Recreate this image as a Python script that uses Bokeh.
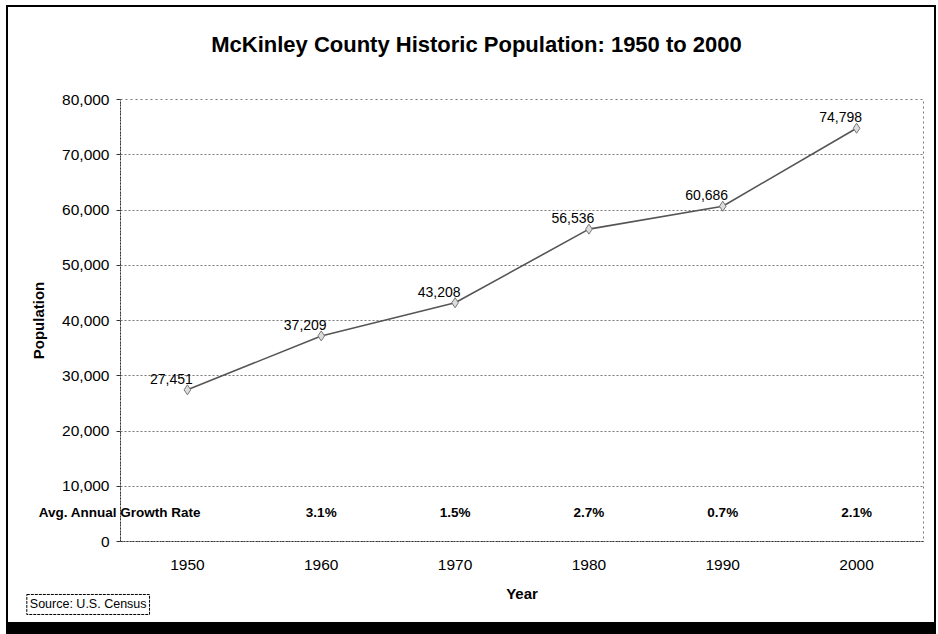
from bokeh.plotting import figure
from bokeh.models import ColumnDataSource, Label, LabelSet, FixedTicker, NumeralTickFormatter, Range1d
from bokeh.embed import file_html
from bokeh.resources import INLINE
from bokeh.core.properties import value

# ---- data ----
years = [1950, 1960, 1970, 1980, 1990, 2000]
population = [27451, 37209, 43208, 56536, 60686, 74798]
pop_labels = ["27,451", "37,209", "43,208", "56,536", "60,686", "74,798"]
rate_years = [1960, 1970, 1980, 1990, 2000]
growth_rates = ["3.1%", "1.5%", "2.7%", "0.7%", "2.1%"]
y_ticks = [0, 10000, 20000, 30000, 40000, 50000, 60000, 70000, 80000]

title_text = "McKinley County Historic Population: 1950 to 2000"
rate_row_label = "Avg. Annual Growth Rate"
source_text = "Source: U.S. Census"
FONT = "Liberation Sans"

p = figure(width=930, height=629, output_backend="svg", toolbar_location=None,
           x_range=Range1d(1945, 2005), y_range=Range1d(0, 80000),
           min_border_left=112, min_border_right=15, min_border_top=92, min_border_bottom=95)
p.styles = {"margin-left": "6px", "margin-top": "5px",
            "border-left": "2px solid black", "border-top": "2px solid black",
            "border-right": "2px solid black", "border-bottom": "12px solid black"}
p.background_fill_color = "white"
p.border_fill_color = "white"
p.outline_line_color = "#777777"
p.outline_line_dash = "2 3"
p.outline_line_width = 1

# axes
p.xaxis.ticker = FixedTicker(ticks=years)
p.yaxis.ticker = FixedTicker(ticks=y_ticks)
p.yaxis.formatter = NumeralTickFormatter(format="0,0")
for ax in (p.xaxis[0], p.yaxis[0]):
    ax.major_label_text_font = FONT
    ax.major_label_text_font_size = "15.5px"
    ax.major_label_text_color = "black"
    ax.axis_label_text_font = FONT
    ax.axis_label_text_font_style = "bold"
    ax.axis_label_text_font_size = "15px"
    ax.axis_label_text_color = "black"
    ax.minor_tick_line_color = None
    ax.axis_line_color = "#333333"
    ax.axis_line_dash = "2 1"
p.xaxis.axis_label = "Year"
p.yaxis.axis_label = "Population"
p.xaxis.major_tick_line_color = None
p.xaxis.major_tick_out = 0
p.xaxis.major_label_standoff = 18
p.xaxis.axis_label_standoff = 12
p.yaxis.major_tick_out = 4
p.yaxis.major_tick_in = 0
p.yaxis.major_tick_line_color = "#333333"
p.yaxis.major_label_standoff = 7
p.yaxis.axis_label_standoff = 12

p.xgrid.grid_line_color = None
p.ygrid.grid_line_color = "#777777"
p.ygrid.grid_line_dash = "2 2"
p.ygrid.grid_line_width = 1

# data
src = ColumnDataSource(dict(x=years, y=population, lab=pop_labels))
p.line("x", "y", source=src, line_color="#555555", line_width=1.6)
p.scatter("x", "y", source=src, marker="diamond", size=10, fill_color="#dddddd",
          line_color="#777777", line_width=1)
p.add_layout(LabelSet(x="x", y="y", text="lab", source=src, x_offset=-16, y_offset=11,
                      text_align="center", text_baseline="middle",
                      text_font=value(FONT), text_font_size="14px", text_color="black"))

# growth-rate row
rsrc = ColumnDataSource(dict(x=rate_years, y=[5250] * len(rate_years), lab=growth_rates))
p.add_layout(LabelSet(x="x", y="y", text="lab", source=rsrc, text_align="center",
                      text_baseline="middle", text_font=value(FONT), text_font_size="13.5px",
                      text_font_style="bold", text_color="black"))
p.add_layout(Label(x=1938.9, y=5250, text=rate_row_label, text_align="left",
                   text_baseline="middle", text_font=FONT, text_font_size="13.5px",
                   text_font_style="bold", text_color="black"), "above")

# title
p.add_layout(Label(x=1971.6, y=89950, text=title_text, text_align="center",
                   text_baseline="middle", text_font=FONT, text_font_size="22px",
                   text_font_style="bold", text_color="black"), "above")

# source box
p.add_layout(Label(x=1938.0, y=-11400, text=source_text, text_align="left",
                   text_baseline="middle", text_font=FONT, text_font_size="12.5px",
                   text_color="black", background_fill_color="white",
                   border_line_color="black", border_line_dash="3 1", border_line_width=1,
                   padding=3), "below")

open("out.html", "w").write(file_html(p, INLINE))
